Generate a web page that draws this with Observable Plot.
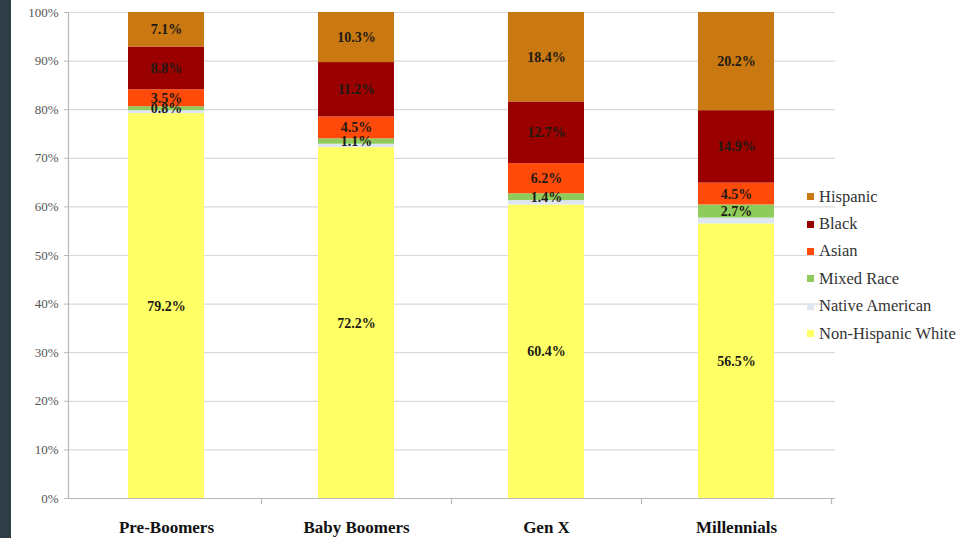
<!DOCTYPE html>
<html>
<head>
<meta charset="utf-8">
<script src="https://cdn.jsdelivr.net/npm/d3@7"></script>
<script src="https://cdn.jsdelivr.net/npm/@observablehq/plot@0.6"></script>
<style>
  html, body { margin: 0; padding: 0; background: #fff; }
  #wrap { position: relative; width: 965px; height: 538px; overflow: hidden; }
  #strip { position: absolute; left: 0; top: 0; width: 11px; height: 538px; background: #2f3d47; }
  #legend { position: absolute; left: 807px; top: 183px; font-family: "Liberation Serif", "Times New Roman", serif; font-size: 16.5px; color: #333; }
  #legend .item { display: flex; align-items: center; height: 27.4px; }
  #legend .sw { width: 7px; height: 7px; margin-right: 5px; }
</style>
</head>
<body>
<div id="wrap">
  <div id="chart"></div>
  <div id="strip"></div>
  <div id="legend"></div>
</div>
<script>
// Generations along the x axis
const generations = ["Pre-Boomers", "Baby Boomers", "Gen X", "Millennials"];
// Groups, stacked from the bottom up
const groups = ["Non-Hispanic White", "Native American", "Mixed Race", "Asian", "Black", "Hispanic"];
const groupColors = ["#ffff66", "#dde6f1", "#8fcb5a", "#ff4a0a", "#9a0000", "#c97812"];
// Share of each generation (percent), one array per group, in generation order
const whiteShare    = [79.2, 72.2, 60.4, 56.5];
const nativeShare   = [0.6, 0.7, 0.9, 1.2];
const mixedShare    = [0.8, 1.1, 1.4, 2.7];
const asianShare    = [3.5, 4.5, 6.2, 4.5];
const blackShare    = [8.8, 11.2, 12.7, 14.9];
const hispanicShare = [7.1, 10.3, 18.4, 20.2];
// Groups whose segment carries a value label
const labelledGroups = ["Non-Hispanic White", "Mixed Race", "Asian", "Black", "Hispanic"];
const yTicks = [0, 10, 20, 30, 40, 50, 60, 70, 80, 90, 100];

const seriesByGroup = [whiteShare, nativeShare, mixedShare, asianShare, blackShare, hispanicShare];
const rows = [];
groups.forEach((g, gi) => {
  generations.forEach((gen, i) => {
    rows.push({generation: gen, group: g, value: seriesByGroup[gi][i]});
  });
});

const W = 965, H = 538;
const mLeft = 71, mRight = 134, mTop = 12, mBottom = 40;
const step = (W - mLeft - mRight) / generations.length;
const serif = "'Liberation Serif', 'Times New Roman', serif";

const chart = Plot.plot({
  width: W,
  height: H,
  marginLeft: mLeft,
  marginRight: mRight,
  marginTop: mTop,
  marginBottom: mBottom,
  style: {fontFamily: serif, background: "transparent"},
  x: {domain: generations, paddingInner: 0.6, paddingOuter: 0.3, label: null},
  y: {domain: [0, 100], label: null},
  color: {domain: groups, range: groupColors},
  marks: [
    // horizontal gridlines
    Plot.ruleY(yTicks.filter(d => d > 0), {stroke: "#d9d9d9", strokeWidth: 1.2, insetLeft: -3, insetRight: -4}),
    Plot.barY(rows, {x: "generation", y: "value", fill: "group", order: groups}),
    Plot.text(rows, Plot.stackY({
      x: "generation",
      y: "value",
      z: "group",
      order: groups,
      text: d => labelledGroups.includes(d.group) ? d.value.toFixed(1) + "%" : "",
      fill: "#1e1a14",
      fontWeight: "bold",
      fontSize: 14
    })),
    // y axis line and baseline
    Plot.ruleX([0], {x: () => generations[0], dx: -step / 2 - 3, y1: 0, y2: 100, stroke: "#b8b8b8", strokeWidth: 1.2}),
    Plot.ruleY([0], {stroke: "#b8b8b8", strokeWidth: 1.2, insetLeft: -3, insetRight: -4}),
    // category separator ticks below the baseline
    Plot.ruleX(generations, {x: d => d, dx: step / 2, y1: 0, y2: 0, insetBottom: -6, stroke: "#b8b8b8", strokeWidth: 1.2}),
    Plot.axisY({ticks: yTicks, tickFormat: d => d + "%", tickSize: 4, tickPadding: 6, stroke: "#b8b8b8", fill: "#555", fontSize: 13, dx: -3}),
    Plot.axisX({tickSize: 0, tickPadding: 22, fontWeight: "bold", fontSize: 17, fill: "#111"})
  ]
});
document.getElementById("chart").appendChild(chart);

// Legend, listed top-down as the segments appear on the bars
const legend = document.getElementById("legend");
groups.slice().reverse().forEach(g => {
  const item = document.createElement("div");
  item.className = "item";
  const sw = document.createElement("span");
  sw.className = "sw";
  sw.style.background = groupColors[groups.indexOf(g)];
  const label = document.createElement("span");
  label.textContent = g;
  item.appendChild(sw);
  item.appendChild(label);
  legend.appendChild(item);
});
</script>
</body>
</html>
